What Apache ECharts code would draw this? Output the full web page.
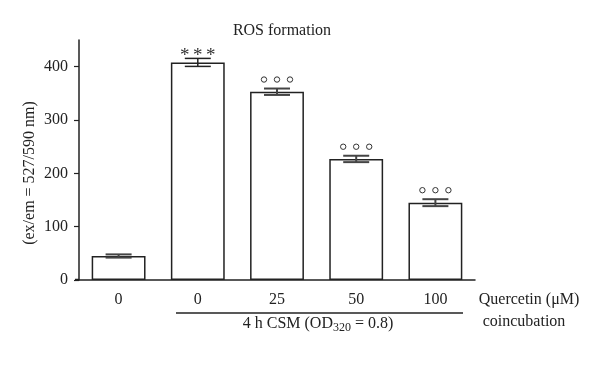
<!DOCTYPE html>
<html>
<head>
<meta charset="utf-8">
<script src="https://cdn.jsdelivr.net/npm/echarts@6/dist/echarts.min.js"></script>
<style>html,body{margin:0;padding:0;background:#fff;}#c{width:600px;height:368px;}</style>
</head>
<body>
<div id="c"></div>
<script>
const categories = ['0', '0', '25', '50', '100'];
const means = [45, 408, 353, 227, 145];
const errors = [3, 7.5, 6, 6, 6.5];
const marks = ['', 'star', 'circle', 'circle', 'circle'];
const yTicks = [0, 100, 200, 300, 400];

const FONT = '"Liberation Serif", "Times New Roman", serif';
const INK = '#222';
const FS = 16;

const chart = echarts.init(document.getElementById('c'), null, {renderer: 'canvas'});

const errData = means.map((m, i) => [i, m - errors[i], m + errors[i], marks[i]]);

chart.setOption({
  animation: false,
  backgroundColor: '#fff',
  title: {
    text: 'ROS formation',
    left: 277, top: 18, textAlign: 'center',
    textStyle: {fontFamily: FONT, fontSize: FS, fontWeight: 'normal', color: INK}
  },
  grid: {left: 79, right: 125, top: 40, bottom: 88},
  xAxis: {
    type: 'category',
    data: categories,
    axisLine: {lineStyle: {color: INK, width: 1.5}},
    axisTick: {alignWithLabel: true, length: 4, lineStyle: {color: INK, width: 1.2}},
    axisLabel: {fontFamily: FONT, fontSize: FS, color: INK, margin: 12}
  },
  yAxis: {
    type: 'value',
    min: 0, max: 450,
    splitLine: {show: false},
    axisLine: {show: true, lineStyle: {color: INK, width: 1.5}},
    axisTick: {show: true, length: 5, customValues: yTicks, lineStyle: {color: INK, width: 1.2}},
    axisLabel: {fontFamily: FONT, fontSize: FS, color: INK, margin: 11, customValues: yTicks}
  },
  series: [
    {
      type: 'bar',
      data: means,
      barCategoryGap: '32%',
      itemStyle: {color: '#fff', borderColor: INK, borderWidth: 1.5},
      z: 2
    },
    {
      type: 'custom',
      data: errData,
      z: 5,
      renderItem: function (params, api) {
        const x = api.value(0);
        const lo = api.coord([x, api.value(1)]);
        const hi = api.coord([x, api.value(2)]);
        const hw = 13;
        const small = (lo[1] - hi[1]) < 8;
        const style = {stroke: small ? '#444' : INK, lineWidth: small ? 2 : 1.5};
        const children = [
          {type: 'line', shape: {x1: lo[0], y1: lo[1], x2: hi[0], y2: hi[1]}, style: style},
          {type: 'line', shape: {x1: hi[0] - hw, y1: hi[1], x2: hi[0] + hw, y2: hi[1]}, style: style},
          {type: 'line', shape: {x1: lo[0] - hw, y1: lo[1], x2: lo[0] + hw, y2: lo[1]}, style: style}
        ];
        const mk = api.value(3);
        const cy = hi[1] - 9;
        [-13, 0, 13].forEach(function (dx) {
          if (mk === 'circle') {
            children.push({type: 'circle', shape: {cx: hi[0] + dx, cy: cy, r: 2.7},
              style: {fill: 'none', stroke: '#333', lineWidth: 1}});
          } else if (mk === 'star') {
            children.push({type: 'text', x: hi[0] + dx, y: cy + 7,
              style: {text: '*', fontFamily: FONT, fontSize: 19, fill: '#333',
                align: 'center', verticalAlign: 'middle'}});
          }
        });
        return {type: 'group', children: children};
      }
    }
  ],
  graphic: [
    {
      type: 'text', x: 30, y: 173, rotation: Math.PI / 2,
      style: {text: '(ex/em = 527/590 nm)', fontFamily: FONT, fontSize: FS, fill: INK,
        align: 'center', verticalAlign: 'middle'}
    },
    {
      type: 'line', shape: {x1: 75, y1: 279.5, x2: 79, y2: 279.5},
      style: {stroke: INK, lineWidth: 1.5}
    },
    {
      type: 'line', shape: {x1: 176, y1: 313, x2: 463, y2: 313},
      style: {stroke: INK, lineWidth: 1.5}
    },
    {
      type: 'text', x: 318, y: 324,
      style: {
        text: '4 h CSM (OD{sub|320} = 0.8)',
        rich: {sub: {fontFamily: FONT, fontSize: 12, fill: INK, padding: [8, 0, 0, 0]}},
        fontFamily: FONT, fontSize: FS, fill: INK, align: 'center', verticalAlign: 'middle'
      }
    },
    {
      type: 'text', x: 529, y: 300,
      style: {text: 'Quercetin (\u03bcM)', fontFamily: FONT, fontSize: FS, fill: INK,
        align: 'center', verticalAlign: 'middle'}
    },
    {
      type: 'text', x: 524, y: 322,
      style: {text: 'coincubation', fontFamily: FONT, fontSize: FS, fill: INK,
        align: 'center', verticalAlign: 'middle'}
    }
  ]
});
</script>
</body>
</html>
